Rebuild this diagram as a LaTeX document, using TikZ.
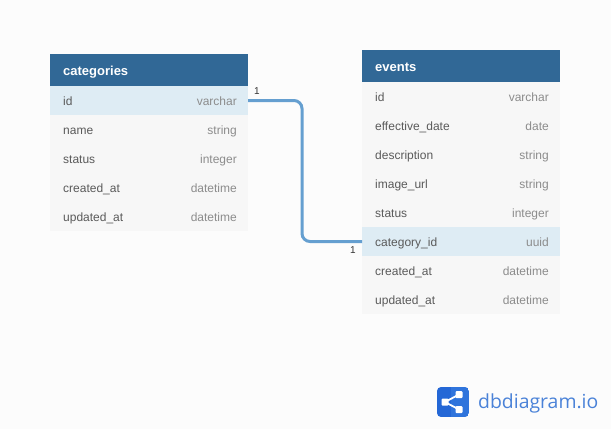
\documentclass[tikz,border=0pt]{standalone}
\usepackage{fontspec}
\setmainfont{Liberation Sans}
\newfontfamily\logofont{Open Sans}
\definecolor{bgc}{HTML}{FCFCFC}
\definecolor{headc}{HTML}{316896}
\definecolor{rowc}{HTML}{F7F7F7}
\definecolor{hlc}{HTML}{DEECF4}
\definecolor{namec}{HTML}{5A5A5A}
\definecolor{typec}{HTML}{8C8C8C}
\definecolor{linkc}{HTML}{659FD0}
\definecolor{logoc}{HTML}{2467D6}
\definecolor{logod}{HTML}{2F74DC}
\definecolor{logot}{HTML}{4A82D8}
\tikzset{
  x=1pt,y=-1pt,
  tbl/.style={anchor=north west,minimum width=198pt,inner sep=0pt,outer sep=0pt},
  headbox/.style={tbl,fill=headc,minimum height=32pt},
  rowbox/.style={tbl,fill=rowc,minimum height=29pt},
  hlbox/.style={tbl,fill=hlc,minimum height=29pt},
  headtxt/.style={anchor=base west,inner sep=0pt,text=white,font=\fontsize{13}{15}\selectfont\bfseries},
  nametxt/.style={anchor=base west,inner sep=0pt,text=namec,font=\fontsize{12}{14}\selectfont},
  typetxt/.style={anchor=base east,inner sep=0pt,text=typec,font=\fontsize{12}{14}\selectfont},
  cardtxt/.style={inner sep=0pt,text=black!80,font=\fontsize{10}{12}\selectfont},
  link/.style={draw=linkc,line width=3pt,rounded corners=8pt},
  logonode/.style={fill=white,rounded corners=1pt}
}
\newcommand{\tblrow}[6]{% id, x, y, style, name, type
  \node[#4] (#1) at (#2,#3) {};
  \node[nametxt] (#1-n) at ([xshift=13pt,yshift=-4.5pt]#1.west) {#5};
  \node[typetxt] (#1-t) at ([xshift=-11pt,yshift=-4.5pt]#1.east) {#6};
}
\begin{document}
\begin{tikzpicture}
\useasboundingbox (0,0) rectangle (611,429);
\fill[bgc] (0,0) rectangle (611,429);
% categories
\node[headbox] (cat) at (50,54) {};
\node[headtxt] (cat-h) at ([xshift=13pt,yshift=-5.2pt]cat.west) {categories};
\tblrow{c1}{50}{86}{hlbox}{id}{varchar}
\tblrow{c2}{50}{115}{rowbox}{name}{string}
\tblrow{c3}{50}{144}{rowbox}{status}{integer}
\tblrow{c4}{50}{173}{rowbox}{created\_at}{datetime}
\tblrow{c5}{50}{202}{rowbox}{updated\_at}{datetime}
% events
\node[headbox] (ev) at (362,50) {};
\node[headtxt] (ev-h) at ([xshift=13pt,yshift=-5.2pt]ev.west) {events};
\tblrow{e1}{362}{82}{rowbox}{id}{varchar}
\tblrow{e2}{362}{111}{rowbox}{effective\_date}{date}
\tblrow{e3}{362}{140}{rowbox}{description}{string}
\tblrow{e4}{362}{169}{rowbox}{image\_url}{string}
\tblrow{e5}{362}{198}{rowbox}{status}{integer}
\tblrow{e6}{362}{227}{hlbox}{category\_id}{uuid}
\tblrow{e7}{362}{256}{rowbox}{created\_at}{datetime}
\tblrow{e8}{362}{285}{rowbox}{updated\_at}{datetime}
% connector
\coordinate (bend) at (302,170);
\draw[link] (c1.east) -| (bend) |- (e6.west);
\node[cardtxt] (card1) at (257,91.5) {1};
\node[cardtxt] (card2) at (353,250.5) {1};
% logo
\begin{scope}
\clip[rounded corners=4pt] (437,387) rectangle (469,417);
\fill[logoc] (437,387) rectangle (451,417);
\fill[logod] (451,387) rectangle (469,417);
\end{scope}
\draw[white,line width=1.8pt] (459,394.5) -- (445,402) -- (459,409.5);
\fill[logonode] (441.5,398.5) rectangle (448.5,405.5);
\fill[logonode] (455.5,391) rectangle (462.5,398);
\fill[logonode] (455.5,406) rectangle (462.5,413);
\node[anchor=west,inner sep=0pt,text=logot,font=\logofont\fontsize{19.4}{22}\selectfont] (brand) at (478,403) {dbdiagram.io};
\end{tikzpicture}
\end{document}
